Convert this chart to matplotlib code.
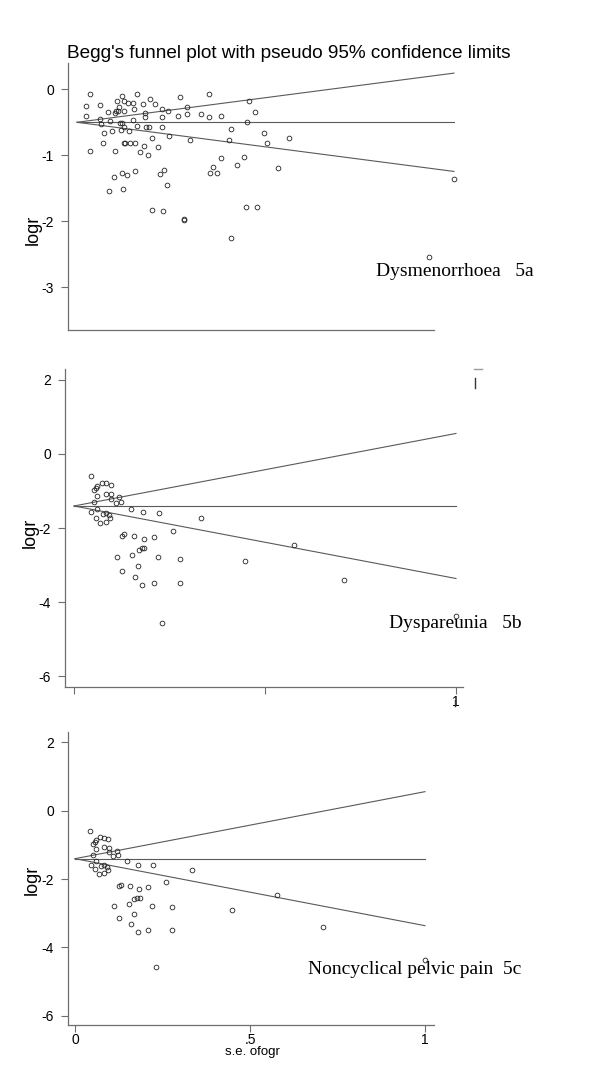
import numpy as np
import matplotlib
matplotlib.use("Agg")
import matplotlib.pyplot as plt
from matplotlib.lines import Line2D

W, H = 600, 1075

# Dysmenorrhoea (5a): standard error and log ratio of each study
se_5a = [0.0134, 0.0091, 0.0091, 0.0232, 0.0228, 0.0245, 0.0276, 0.0259, 0.0128,
         0.0316, 0.0336, 0.0356, 0.0380, 0.0386, 0.0373, 0.0326, 0.0393, 0.0407,
         0.0417, 0.0427, 0.0433, 0.0450, 0.0454, 0.0447, 0.0474, 0.0477, 0.0477,
         0.0487, 0.0474, 0.0467, 0.0454, 0.0504, 0.0517, 0.0521, 0.0534, 0.0561,
         0.0568, 0.0575, 0.0585, 0.0588, 0.0605, 0.0601, 0.0632, 0.0662, 0.0672,
         0.0685, 0.0689, 0.0696, 0.0719, 0.0729, 0.0736, 0.0759, 0.0783, 0.0813,
         0.0853, 0.0860, 0.0860, 0.0837, 0.0877, 0.0904, 0.0921, 0.0924, 0.1021,
         0.1035, 0.1105, 0.1112, 0.1142, 0.0753, 0.0870, 0.1079, 0.1083, 0.1247,
         0.1334, 0.1334, 0.1341, 0.1368, 0.1408, 0.1455, 0.1455, 0.1556, 0.1536,
         0.1616, 0.1683, 0.1710, 0.1737, 0.1791, 0.1885, 0.1919, 0.1707, 0.1818,
         0.2029, 0.1552, 0.2140, 0.3550, 0.3800]
logr_5a = [-0.071, -0.253, -0.399, -0.237, -0.455, -0.525, -0.657, -0.818, -0.929,
           -0.338, -0.485, -0.636, -0.364, -0.929, -1.333, -1.545, -0.323, -0.172,
           -0.323, -0.263, -0.515, -0.101, -0.505, -0.616, -0.566, -0.172, -0.328,
           -0.808, -0.818, -1.515, -1.273, -1.303, -0.212, -0.626, -0.818, -0.212,
           -0.465, -0.303, -1.242, -0.813, -0.076, -0.556, -0.944, -0.222, -0.854,
           -0.414, -0.364, -0.576, -1.000, -0.576, -0.141, -0.737, -0.222, -0.879,
           -0.303, -0.414, -0.566, -1.278, -1.222, -1.449, -0.323, -0.707, -0.399,
           -0.111, -0.263, -0.374, -0.768, -1.828, -1.838, -1.970, -1.980, -0.374,
           -0.071, -0.424, -1.273, -1.172, -1.273, -0.404, -1.045, -0.606, -0.768,
           -1.146, -1.030, -0.490, -0.172, -0.338, -0.667, -0.818, -1.778, -1.788,
           -1.197, -2.247, -0.742, -2.535, -1.359]
pooled_5a = -0.5

# Dyspareunia (5b) and noncyclical pelvic pain (5c) show the same studies
se_5bc = [0.0433, 0.0614, 0.0584, 0.0524, 0.0604, 0.0725, 0.0826, 0.0957, 0.0836,
          0.0977, 0.0977, 0.1188, 0.1239, 0.1098, 0.0514, 0.0453, 0.0614, 0.0584,
          0.0675, 0.0755, 0.0826, 0.0836, 0.0926, 0.0937, 0.1480, 0.1800, 0.2236,
          0.3333, 0.2598, 0.1259, 0.1309, 0.1581, 0.1833, 0.2095, 0.1118, 0.1531,
          0.1692, 0.1782, 0.1843, 0.2195, 0.2779, 0.1259, 0.1672, 0.1601, 0.1793,
          0.2095, 0.2779, 0.4481, 0.5770, 0.7080, 0.2306, 1.0000]
logr_5bc = [-0.586, -0.865, -0.928, -0.973, -1.126, -0.775, -0.793, -0.838, -1.072,
            -1.081, -1.216, -1.171, -1.288, -1.333, -1.288, -1.577, -1.486, -1.721,
            -1.865, -1.631, -1.586, -1.838, -1.640, -1.739, -1.486, -1.577, -1.595,
            -1.739, -2.081, -2.216, -2.162, -2.216, -2.306, -2.243, -2.793, -2.730,
            -2.595, -2.550, -2.550, -2.793, -2.829, -3.153, -3.027, -3.315, -3.550,
            -3.495, -3.477, -2.901, -2.468, -3.396, -4.559, -4.378]
pooled_5bc = -1.405

LINE = "#5a5a5a"
SPINE = "#6e6e6e"
SANS = ["Liberation Sans", "DejaVu Sans"]
SERIF = ["Liberation Serif", "DejaVu Serif"]


def px_axes(fig, left, top, right, bottom):
    return fig.add_axes([left / W, 1 - bottom / H, (right - left) / W, (bottom - top) / H])


def funnel(ax, se, logr, pooled):
    se_line = np.array([0.0, max(se)])
    ax.plot(se_line, [pooled, pooled], color=LINE, lw=0.8)
    ax.plot(se_line, pooled + 1.96 * se_line, color=LINE, lw=0.8)
    ax.plot(se_line, pooled - 1.96 * se_line, color=LINE, lw=0.8)
    ax.plot(se, logr, "o", ms=3.4, mfc="none", mec="#222222", mew=0.6, clip_on=False)
    for s in ("top", "right"):
        ax.spines[s].set_visible(False)
    for s in ("left", "bottom"):
        ax.spines[s].set_color(SPINE)
        ax.spines[s].set_linewidth(0.9)
    ax.tick_params(axis="both", colors=SPINE, labelcolor="black", length=5,
                   width=0.8, labelsize=10)
    ax.tick_params(axis="y", pad=5)
    ax.tick_params(axis="x", pad=1)


def px_line(fig, xs, ys, color):
    fig.add_artist(Line2D([x / W for x in xs], [1 - y / H for y in ys],
                          transform=fig.transFigure, color=color, lw=1))


fig = plt.figure(figsize=(W / 100, H / 100), dpi=100)

# panel 5a
ax1 = px_axes(fig, 68, 63, 470, 330)
funnel(ax1, se_5a, logr_5a, pooled_5a)
ax1.set_xlim((68 - 77) / 992, (470 - 77) / 992)
ax1.set_ylim(-3.647, 0.398)
ax1.spines["bottom"].set_bounds((68 - 77) / 992, (434 - 77) / 992)
ax1.set_yticks([0, -1, -2, -3])
ax1.set_yticklabels(["0", "-1", "-2", "-3"], family=SANS)
ax1.set_xticks([])

# panel 5b
ax2 = px_axes(fig, 65, 369, 470, 687)
funnel(ax2, se_5bc, logr_5bc, pooled_5bc)
ax2.set_xlim((65 - 74) / 382, (470 - 74) / 382)
ax2.set_ylim(-6.297, 2.297)
ax2.spines["bottom"].set_bounds((65 - 74) / 382, (463 - 74) / 382)
ax2.set_yticks([2, 0, -2, -4, -6])
ax2.set_yticklabels(["2", "0", "-2", "-4", "-6"], family=SANS)
ax2.set_xticks([0, 0.5, 1])
ax2.set_xticklabels(["", "", "1"], family=SANS)

# panel 5c
ax3 = px_axes(fig, 68, 732, 450, 1025)
funnel(ax3, se_5bc, logr_5bc, pooled_5bc)
ax3.set_xlim((68 - 75) / 350, (450 - 75) / 350)
ax3.set_ylim(-6.27, 2.30)
ax3.spines["bottom"].set_bounds((68 - 75) / 350, (434 - 75) / 350)
ax3.set_yticks([2, 0, -2, -4, -6])
ax3.set_yticklabels(["2", "0", "-2", "-4", "-6"], family=SANS)
ax3.set_xticks([0, 0.5, 1])
ax3.set_xticklabels(["0", ".5", "1"], family=SANS)

fig.text(67 / W, 1 - 53 / H, "Begg's funnel plot with pseudo 95% confidence limits",
         ha="left", va="center", fontsize=13.7, family=SANS)
for x, y in ((33, 230), (30, 533), (32, 880)):
    fig.text(x / W, 1 - y / H, "logr", rotation=90, ha="center", va="center",
             fontsize=13, family=SANS)
fig.text(252 / W, 1 - 1052 / H, "s.e. ofogr", ha="center", va="center",
         fontsize=9.5, family=SANS)

fig.text(376 / W, 1 - 272 / H, "Dysmenorrhoea   5a", ha="left", va="center",
         fontsize=14, family=SERIF)
fig.text(389 / W, 1 - 623 / H, "Dyspareunia   5b", ha="left", va="center",
         fontsize=14, family=SERIF)
fig.text(308 / W, 1 - 970 / H, "Noncyclical pelvic pain  5c", ha="left", va="center",
         fontsize=14, family=SERIF)

# small stray marks left over from the stacked scans
px_line(fig, [474, 482], [369, 369], "#9a9a9a")
px_line(fig, [475, 475], [378, 388], "#333333")
px_line(fig, [455, 455], [700, 706], "#333333")

fig.savefig("out.png", dpi=100)
